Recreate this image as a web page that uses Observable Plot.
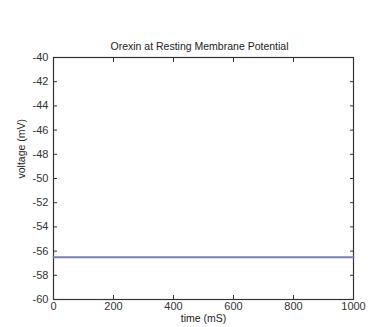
<!DOCTYPE html>
<html>
<head>
<meta charset="utf-8">
<script src="https://cdn.jsdelivr.net/npm/d3@7"></script>
<script src="https://cdn.jsdelivr.net/npm/@observablehq/plot@0.6"></script>
<style>
  html, body { margin: 0; padding: 0; background: #fff; }
  svg { font-family: "Liberation Sans", Arial, sans-serif; }
</style>
</head>
<body>
<div id="chart"></div>
<script>
// Membrane voltage over the simulated time window
const timeMs = [0, 1000];
const voltageMv = [-56.5, -56.5];

const xTicks = [0, 200, 400, 600, 800, 1000];
const yTicks = [-40, -42, -44, -46, -48, -50, -52, -54, -56, -58, -60];

const titleText = "Orexin at Resting Membrane Potential";
const xLabel = "time (mS)";
const yLabel = "voltage (mV)";

const trace = timeMs.map((t, i) => ({t, v: voltageMv[i]}));
const axisColor = "#333";
const plain = d => String(d);   // hyphen minus, no thousands separator
const blank = () => "";

const chart = Plot.plot({
  width: 368,
  height: 327,
  marginLeft: 53,
  marginRight: 15,
  marginTop: 57,
  marginBottom: 28,
  style: {fontSize: "11px", color: axisColor, background: "#fff"},
  x: {domain: [0, 1000]},
  y: {domain: [-60, -40]},
  marks: [
    Plot.frame({stroke: axisColor, strokeWidth: 1.2}),
    // inward ticks with labels on bottom and left
    Plot.axisX(xTicks, {anchor: "bottom", tickSize: -4, tickPadding: 7, tickFormat: plain, label: null, stroke: axisColor, fill: axisColor}),
    Plot.axisY(yTicks, {anchor: "left", tickSize: -4, tickPadding: 9, tickFormat: plain, label: null, stroke: axisColor, fill: axisColor}),
    // mirrored inward ticks on top and right
    Plot.axisX(xTicks, {anchor: "top", tickSize: -4, tickFormat: blank, label: null, stroke: axisColor}),
    Plot.axisY(yTicks, {anchor: "right", tickSize: -4, tickFormat: blank, label: null, stroke: axisColor}),
    Plot.line(trace, {x: "t", y: "v", stroke: "#7c7cb6", strokeWidth: 2}),
    Plot.text([titleText], {frameAnchor: "top", dx: -4, dy: -15, text: d => d, fontSize: 10.5, fill: "#222"}),
    Plot.text([xLabel], {frameAnchor: "bottom", dy: 22, text: d => d, fontSize: 10.5, fill: "#222"}),
    Plot.text([yLabel], {frameAnchor: "left", dx: -32, rotate: -90, text: d => d, fontSize: 10.5, fill: "#222"})
  ]
});
document.getElementById("chart").appendChild(chart);
</script>
</body>
</html>
